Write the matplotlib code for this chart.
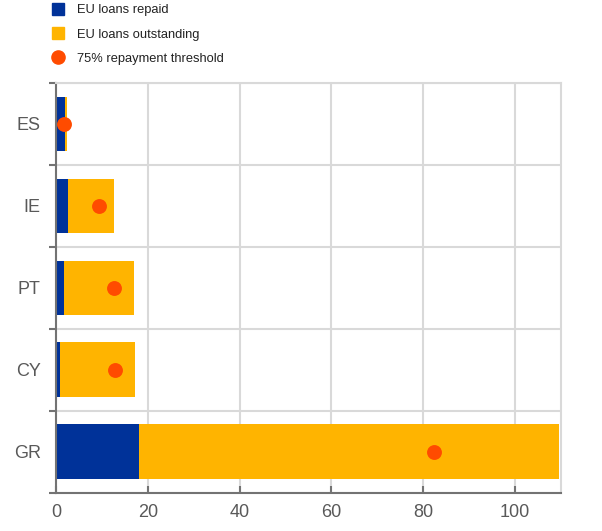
import matplotlib.pyplot as plt
from matplotlib.lines import Line2D
import numpy as np

plt.rcParams["font.family"] = ["Liberation Sans", "DejaVu Sans"]

countries = ["ES", "IE", "PT", "CY", "GR"]
repaid = [2.0, 2.6, 1.75, 0.87, 18.0]
total = [2.3, 12.6, 17.0, 17.3, 109.7]
threshold = [1.75, 9.45, 12.75, 12.95, 82.3]

blue = "#003299"
yellow = "#FFB400"
orange = "#FF4B00"
grey = "#595959"

outstanding = np.array(total) - np.array(repaid)
y = np.arange(len(countries))

fig = plt.figure(figsize=(6.02, 5.31), dpi=100)
ax = fig.add_axes([56 / 602, 1 - 492.7 / 531, (560.7 - 56) / 602, (492.7 - 83) / 531])

ax.barh(y, repaid, height=0.667, color=blue, zorder=2)
ax.barh(y, outstanding, left=repaid, height=0.667, color=yellow, zorder=2)
ax.scatter(threshold, y, s=115, color=orange, zorder=3, linewidths=0)

ax.set_xlim(0, 110)
ax.set_ylim(4.5, -0.5)
ax.set_xticks([0, 20, 40, 60, 80, 100])
ax.set_yticks(y)
ax.set_yticklabels(countries)
ax.set_yticks(np.arange(-0.5, 5, 1), minor=True)

ax.tick_params(axis="y", which="major", length=0, pad=11, labelsize=13, labelcolor=grey)
ax.tick_params(axis="y", which="minor", length=5, width=1.5, direction="out", color="#737373")
ax.tick_params(axis="x", length=5, width=1.5, direction="in", pad=8, labelsize=13,
               labelcolor=grey, color="#737373")

ax.grid(axis="x", color="#d9d9d9", linewidth=1.5, zorder=0)
ax.grid(axis="y", which="minor", color="#d9d9d9", linewidth=1.5, zorder=0)
ax.set_axisbelow(True)

for s in ["top", "right"]:
    ax.spines[s].set_color("#d9d9d9")
    ax.spines[s].set_linewidth(1.5)
for s in ["left", "bottom"]:
    ax.spines[s].set_color("#737373")
    ax.spines[s].set_linewidth(1.5)

handles = [
    Line2D([], [], marker="s", linestyle="none", markersize=8, color=blue),
    Line2D([], [], marker="s", linestyle="none", markersize=8, color=yellow),
    Line2D([], [], marker="o", linestyle="none", markersize=9.5, color=orange),
]
labels = ["EU loans repaid", "EU loans outstanding", "75% repayment threshold"]
fig.legend(handles, labels, loc="upper left", bbox_to_anchor=(46 / 602, 1 + 1 / 531),
           frameon=False, fontsize=9.3, handlelength=1, handletextpad=1.0,
           labelspacing=0.95, borderaxespad=0, labelcolor="#222222")

fig.savefig("out.png", dpi=100)
